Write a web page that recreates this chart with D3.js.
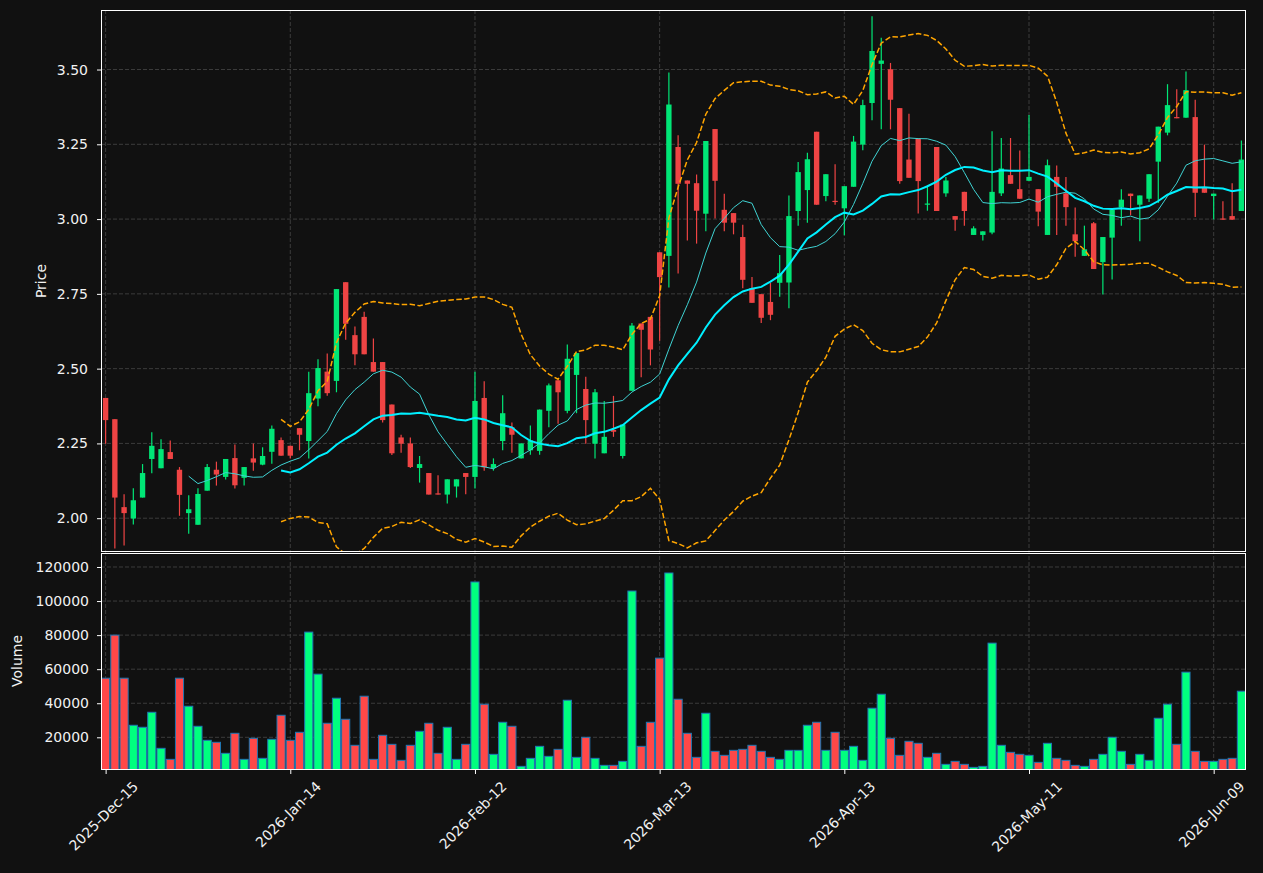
<!DOCTYPE html>
<html>
<head>
<meta charset="utf-8">
<script src="https://cdn.jsdelivr.net/npm/d3@7"></script>
<style>
  html, body { margin: 0; padding: 0; background: #111111; }
  svg { display: block; font-family: "DejaVu Sans", sans-serif; }
</style>
</head>
<body>
<svg id="chart"></svg>
<script>
// daily bars, index 0 = 2025-Dec-15
const opens = [2.402,2.331,2.037,1.999,2.069,2.198,2.167,2.221,2.162,2.017,1.978,2.092,2.162,2.138,2.201,2.135,2.200,2.179,2.222,2.261,
  2.242,2.301,2.258,2.400,2.490,2.459,2.789,2.612,2.673,2.522,2.522,2.380,2.270,2.250,2.168,2.151,2.083,2.079,2.106,2.151,
  2.138,2.402,2.168,2.258,2.304,2.200,2.227,2.225,2.359,2.461,2.359,2.479,2.432,2.249,2.217,2.295,2.208,2.426,2.651,2.673,
  2.889,2.877,3.241,3.129,3.120,3.018,3.301,3.031,3.020,2.940,2.769,2.749,2.723,2.787,2.788,3.027,3.097,3.292,3.077,3.061,
  3.036,3.108,3.249,3.388,3.519,3.501,3.371,3.199,3.269,3.048,3.241,3.086,3.010,3.091,2.947,2.947,2.955,3.086,3.147,3.100,
  3.128,3.100,2.947,3.141,3.086,2.949,2.877,2.986,2.856,2.938,3.039,3.085,3.048,3.068,3.192,3.289,3.341,3.339,3.341,3.106,
  3.077,3.002,3.010,3.027];
const highs = [2.402,2.331,2.080,2.100,2.181,2.287,2.264,2.260,2.171,2.077,2.100,2.181,2.189,2.198,2.246,2.171,2.250,2.237,2.310,2.270,
  2.242,2.301,2.490,2.531,2.551,2.766,2.789,2.641,2.690,2.601,2.522,2.380,2.279,2.270,2.208,2.151,2.144,2.130,2.130,2.151,
  2.490,2.458,2.200,2.411,2.320,2.250,2.310,2.363,2.450,2.461,2.581,2.552,2.473,2.432,2.392,2.409,2.313,2.653,2.651,2.673,
  2.889,3.490,3.280,3.129,3.149,3.261,3.301,3.085,3.020,2.981,2.806,2.749,2.787,2.880,3.079,3.191,3.222,3.292,3.150,3.183,
  3.110,3.278,3.399,3.678,3.606,3.522,3.371,3.352,3.269,3.112,3.241,3.141,3.010,3.091,2.976,2.959,3.294,3.271,3.271,3.229,
  3.348,3.100,3.199,3.179,3.141,3.039,2.978,2.990,2.940,3.031,3.100,3.085,3.079,3.150,3.309,3.451,3.434,3.493,3.399,3.249,
  3.085,3.060,3.120,3.263];
const lows = [2.249,1.899,1.909,1.979,2.069,2.150,2.167,2.198,2.008,1.948,1.978,2.092,2.109,2.129,2.099,2.109,2.159,2.177,2.182,2.209,
  2.200,2.227,2.200,2.374,2.409,2.421,2.597,2.511,2.548,2.490,2.320,2.211,2.219,2.168,2.119,2.079,2.079,2.049,2.069,2.080,
  2.099,2.159,2.159,2.227,2.219,2.200,2.212,2.212,2.304,2.316,2.351,2.351,2.249,2.200,2.217,2.272,2.200,2.426,2.471,2.511,
  2.593,2.771,2.818,2.928,2.918,2.959,3.002,2.959,2.949,2.769,2.720,2.653,2.662,2.740,2.702,2.978,2.988,3.048,3.060,3.048,
  2.946,3.108,3.230,3.330,3.300,3.300,3.118,3.138,3.019,3.028,3.027,3.075,2.961,2.978,2.947,2.928,2.949,3.077,3.118,3.068,
  3.128,2.976,2.947,2.947,2.978,2.874,2.877,2.833,2.748,2.798,2.978,3.013,2.926,3.057,3.054,3.280,3.337,3.339,3.007,3.088,
  2.999,2.998,2.998,3.027];
const closes = [2.328,2.069,2.017,2.060,2.151,2.242,2.231,2.198,2.078,2.030,2.081,2.171,2.146,2.198,2.110,2.171,2.186,2.208,2.299,2.209,
  2.209,2.279,2.418,2.502,2.418,2.766,2.650,2.548,2.548,2.490,2.328,2.217,2.249,2.171,2.181,2.079,2.079,2.130,2.130,2.138,
  2.392,2.170,2.181,2.351,2.279,2.250,2.260,2.363,2.444,2.421,2.533,2.552,2.328,2.421,2.272,2.289,2.313,2.644,2.630,2.564,
  2.806,3.383,3.118,3.118,3.028,3.261,3.128,2.988,2.988,2.797,2.720,2.670,2.680,2.819,3.010,3.157,3.200,3.048,3.150,3.057,
  3.110,3.259,3.381,3.562,3.530,3.399,3.127,3.138,3.127,3.052,3.027,3.129,2.998,3.027,2.969,2.959,3.091,3.169,3.118,3.068,
  3.141,3.025,3.180,3.108,3.040,2.926,2.899,2.833,2.940,3.031,3.065,3.077,3.079,3.150,3.309,3.381,3.337,3.431,3.088,3.088,
  3.085,2.998,2.998,3.199];
const volumes = [54700,80000,54700,27060,25880,34700,13530,7060,54700,38235,26470,18235,17060,10590,22350,7060,19410,7650,18820,32940,
  18235,22940,81765,57060,28235,42940,30590,15300,44120,7060,21180,15880,6470,15300,23530,28235,10590,25880,7060,15880,
  111180,39410,10000,28820,26470,2940,7650,14700,8820,12940,41760,8235,20000,7650,3530,3530,5880,105880,14700,28820,
  66470,116470,42350,22350,8235,34120,11765,9410,12350,12940,15300,11765,8235,7060,12350,12350,27060,28820,12350,22940,
  12350,14700,6470,37060,45290,19410,9410,17650,16470,8235,10590,4120,5880,4120,2350,2940,75290,15300,11180,10000,
  9410,5290,16470,7650,6470,3530,2940,7060,10000,20000,11765,4120,10000,6470,31180,39410,15880,58235,11765,5880,
  5880,7060,7650,47060];
const tickIndex = [0, 20, 40, 60, 80, 100, 120];
const tickLabels = ['2025-Dec-15','2026-Jan-14','2026-Feb-12','2026-Mar-13','2026-Apr-13','2026-May-11','2026-Jun-09'];
const priceTicks = [2.00, 2.25, 2.50, 2.75, 3.00, 3.25, 3.50];
const volumeTicks = [20000, 40000, 60000, 80000, 100000, 120000];

const W = 1263, H = 873;
const P = {left: 101, right: 1246, top: 10, bottom: 552};
const V = {top: 552, bottom: 770};
const UP = '#00e676', DOWN = '#ef4444';
const VUP = '#00ff7f', VDOWN = '#ff4848';
const TXT = '#f2f2f2';

const n = closes.length;
const bars = d3.range(n).map(i => ({i, o: opens[i], h: highs[i], l: lows[i], c: closes[i], v: volumes[i]}));

// rolling indicators from the closes
function sma(len) {
  return closes.map((d, i) => i < len - 1 ? null : d3.mean(closes.slice(i - len + 1, i + 1)));
}
const ma10 = sma(10);
const ma20 = sma(20);
const sd20 = closes.map((d, i) => i < 19 ? null : d3.deviation(closes.slice(i - 19, i + 1)));
const bbUp = ma20.map((m, i) => m == null ? null : m + 2 * sd20[i]);
const bbLo = ma20.map((m, i) => m == null ? null : m - 2 * sd20[i]);

const x = d3.scaleLinear().domain([-0.5, n - 0.5]).range([P.left, P.right]);
const yP = d3.scaleLinear().domain([1.887, 3.699]).range([P.bottom, P.top]);
const yV = d3.scaleLinear().domain([800, 128800]).range([V.bottom, V.top]);
const step = x(1) - x(0);

const svg = d3.select('#chart').attr('width', W).attr('height', H);
svg.append('rect').attr('width', W).attr('height', H).attr('fill', '#111111');

const defs = svg.append('defs');
defs.append('clipPath').attr('id', 'clipP').append('rect')
  .attr('x', P.left).attr('y', P.top).attr('width', P.right - P.left).attr('height', P.bottom - P.top);
defs.append('clipPath').attr('id', 'clipV').append('rect')
  .attr('x', P.left).attr('y', V.top).attr('width', P.right - P.left).attr('height', V.bottom - V.top);

// grid
const grid = svg.append('g').attr('stroke', '#3c3c3c').attr('stroke-width', 1).attr('stroke-dasharray', '4,2');
grid.selectAll('.gp').data(priceTicks).enter().append('line')
  .attr('x1', P.left).attr('x2', P.right).attr('y1', d => yP(d)).attr('y2', d => yP(d));
grid.selectAll('.gv').data(volumeTicks).enter().append('line')
  .attr('x1', P.left).attr('x2', P.right).attr('y1', d => yV(d)).attr('y2', d => yV(d));
grid.selectAll('.gx').data(tickIndex).enter().append('line')
  .attr('x1', d => x(d)).attr('x2', d => x(d)).attr('y1', P.top).attr('y2', V.bottom);

// candles
const cg = svg.append('g').attr('clip-path', 'url(#clipP)');
cg.selectAll('.wick').data(bars).enter().append('line')
  .attr('x1', d => x(d.i)).attr('x2', d => x(d.i))
  .attr('y1', d => yP(d.h)).attr('y2', d => yP(d.l))
  .attr('stroke', d => d.c >= d.o ? UP : DOWN).attr('stroke-width', 1.2);
cg.selectAll('.body').data(bars).enter().append('rect')
  .attr('x', d => x(d.i) - step * 0.29)
  .attr('width', step * 0.58)
  .attr('y', d => yP(Math.max(d.o, d.c)))
  .attr('height', d => Math.max(1, Math.abs(yP(d.o) - yP(d.c))))
  .attr('fill', d => d.c >= d.o ? UP : DOWN);

// indicator lines
const line = d3.line().defined(d => d != null).x((d, i) => x(i)).y(d => yP(d));
cg.append('path').datum(ma10).attr('d', line).attr('fill', 'none')
  .attr('stroke', '#3fd3d3').attr('stroke-width', 1);
cg.append('path').datum(ma20).attr('d', line).attr('fill', 'none')
  .attr('stroke', '#00f0ff').attr('stroke-width', 2);
[bbUp, bbLo].forEach(s => {
  cg.append('path').datum(s).attr('d', line).attr('fill', 'none')
    .attr('stroke', '#ffa500').attr('stroke-width', 1.5).attr('stroke-dasharray', '5.5,2.4');
});

// volume
const vg = svg.append('g').attr('clip-path', 'url(#clipV)');
vg.selectAll('.vol').data(bars).enter().append('rect')
  .attr('x', d => x(d.i) - step * 0.44)
  .attr('width', step * 0.88)
  .attr('y', d => yV(d.v))
  .attr('height', d => V.bottom + 5 - yV(d.v))
  .attr('fill', d => d.c >= d.o ? VUP : VDOWN)
  .attr('stroke', '#1f77b4').attr('stroke-width', 1);

// frames (half-pixel offsets keep the spines crisp)
svg.append('rect').attr('x', P.left + 0.5).attr('y', P.top + 0.5)
  .attr('width', P.right - P.left - 1).attr('height', P.bottom - P.top - 1)
  .attr('fill', 'none').attr('stroke', '#ffffff').attr('stroke-width', 1);
svg.append('rect').attr('x', P.left + 0.5).attr('y', V.top + 1.5)
  .attr('width', P.right - P.left - 1).attr('height', V.bottom - V.top - 2)
  .attr('fill', 'none').attr('stroke', '#ffffff').attr('stroke-width', 1);

// axes
function styleAxis(g) {
  g.select('.domain').remove();
  g.selectAll('.tick line').attr('stroke', '#ffffff');
  g.selectAll('.tick text').attr('fill', TXT).attr('font-size', 14).attr('font-family', 'DejaVu Sans');
}
svg.append('g').attr('transform', `translate(${P.left},0)`)
  .call(d3.axisLeft(yP).tickValues(priceTicks).tickFormat(d3.format('.2f')).tickSize(4).tickPadding(9))
  .call(styleAxis);
svg.append('g').attr('transform', `translate(${P.left},0)`)
  .call(d3.axisLeft(yV).tickValues(volumeTicks).tickFormat(d3.format('d')).tickSize(4).tickPadding(8))
  .call(styleAxis);
svg.append('g').attr('transform', `translate(0,${V.bottom})`)
  .call(d3.axisBottom(x).tickValues(tickIndex).tickFormat('').tickSize(4))
  .call(styleAxis);

// rotated date labels, centred under each tick
const xl = svg.append('g');
tickIndex.forEach((t, k) => {
  const txt = xl.append('text').text(tickLabels[k])
    .attr('fill', TXT).attr('font-size', 14).attr('text-anchor', 'middle').attr('dy', '0.35em');
  const len = txt.node().getComputedTextLength();
  const half = (len + 14) * Math.SQRT1_2 / 2;
  txt.attr('transform', `translate(${x(t) - 2},${779 + half}) rotate(-45)`);
});

svg.append('text').text('Price').attr('fill', TXT).attr('font-size', 14).attr('text-anchor', 'middle')
  .attr('transform', `translate(46,${(P.top + P.bottom) / 2}) rotate(-90)`);
svg.append('text').text('Volume').attr('fill', TXT).attr('font-size', 14).attr('text-anchor', 'middle')
  .attr('transform', `translate(22,${(V.top + V.bottom) / 2}) rotate(-90)`);
</script>
</body>
</html>
